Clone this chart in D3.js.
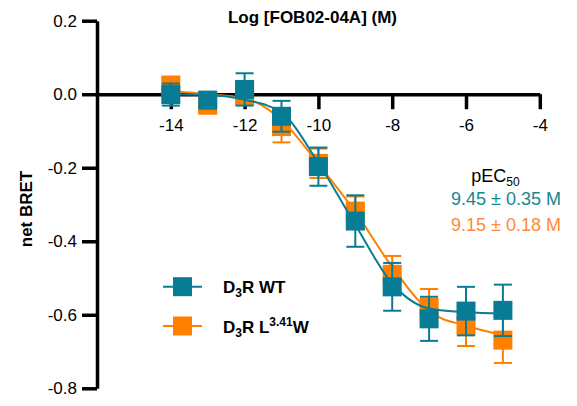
<!DOCTYPE html>
<html>
<head>
<meta charset="utf-8">
<script src="https://cdn.jsdelivr.net/npm/d3@7"></script>
<style>
  body { margin: 0; background: #fff; }
  svg { font-family: Arial, "Liberation Sans", sans-serif; }
</style>
</head>
<body>
<div class="chart"></div>
<script>
// log concentration (M)
const logConc = [-14, -13, -12, -11, -10, -9, -8, -7, -6, -5];

// D3R WT
const wtMean = [-0.001, -0.016, 0.013, -0.06, -0.197, -0.345, -0.524, -0.611, -0.59, -0.588];
const wtErr  = [0.03, 0.015, 0.044, 0.042, 0.052, 0.07, 0.065, 0.06, 0.066, 0.07];
const wtFit  = [0.0, -0.002, -0.015, -0.05, -0.187, -0.355, -0.515, -0.583, -0.593, -0.596];

// D3R L3.41W
const mutMean = [0.025, -0.03, -0.005, -0.088, -0.188, -0.318, -0.49, -0.58, -0.63, -0.669];
const mutErr  = [0.02, 0.015, 0.02, 0.043, 0.04, 0.04, 0.05, 0.05, 0.055, 0.062];
const mutFit  = [0.008, 0.0, -0.011, -0.07, -0.19, -0.32, -0.47, -0.59, -0.63, -0.655];

const xTicks = [-14, -12, -10, -8, -6, -4];
const yTicks = [0.2, 0.0, -0.2, -0.4, -0.6, -0.8];

const teal = '#087c94';
const orange = '#ff8000';

const width = 577, height = 406;

const svg = d3.select('.chart').append('svg')
    .attr('width', width)
    .attr('height', height);

const x = d3.scaleLinear().domain([-16, -4]).range([97, 539.8]);
const y = d3.scaleLinear().domain([0.2, -0.8]).range([20.7, 388.3]);

// axes
const yAxis = svg.append('g')
    .attr('transform', `translate(${x(-16)},0)`)
    .call(d3.axisLeft(y).tickValues(yTicks).tickSize(15).tickSizeOuter(0).tickPadding(5)
        .tickFormat(d => d.toFixed(1)));

const xAxis = svg.append('g')
    .attr('transform', `translate(0,${y(0)})`)
    .call(d3.axisBottom(x).tickValues(xTicks).tickSize(15).tickSizeOuter(0).tickPadding(10)
        .tickFormat(d => String(d)));

[yAxis, xAxis].forEach(g => {
    g.select('.domain').attr('stroke', '#000').attr('stroke-width', 3.5);
    g.selectAll('.tick line').attr('stroke', '#000').attr('stroke-width', 3.5);
    g.selectAll('.tick text').attr('fill', '#000').style('font-size', '17px')
        .style('font-family', 'Arial, "Liberation Sans", sans-serif');
});

// titles
svg.append('text')
    .attr('x', 312.5).attr('y', 23)
    .attr('text-anchor', 'middle')
    .style('font-size', '17px').style('font-weight', 'bold')
    .text('Log [FOB02-04A] (M)');

svg.append('text')
    .attr('transform', 'translate(32,209) rotate(-90)')
    .attr('text-anchor', 'middle')
    .style('font-size', '17px').style('font-weight', 'bold')
    .text('net BRET');

// series
const series = [
    {mean: mutMean, err: mutErr, fit: mutFit, color: orange},
    {mean: wtMean, err: wtErr, fit: wtFit, color: teal}
];

const line = d3.line()
    .x((d, i) => x(logConc[i]))
    .y(d => y(d))
    .curve(d3.curveMonotoneX);

const sq = 19, cap = 9;

series.forEach(s => {
    const g = svg.append('g');
    const pts = logConc.map((c, i) => ({c, m: s.mean[i], e: s.err[i]}));

    g.selectAll('line.err')
        .data(pts)
        .join('line')
        .attr('x1', d => x(d.c)).attr('x2', d => x(d.c))
        .attr('y1', d => y(d.m + d.e)).attr('y2', d => y(d.m - d.e))
        .attr('stroke', s.color).attr('stroke-width', 2);

    ['+', '-'].forEach(sign => {
        g.selectAll(null)
            .data(pts)
            .join('line')
            .attr('x1', d => x(d.c) - cap).attr('x2', d => x(d.c) + cap)
            .attr('y1', d => y(sign === '+' ? d.m + d.e : d.m - d.e))
            .attr('y2', d => y(sign === '+' ? d.m + d.e : d.m - d.e))
            .attr('stroke', s.color).attr('stroke-width', 2);
    });

    g.append('path')
        .datum(s.fit)
        .attr('d', line)
        .attr('fill', 'none')
        .attr('stroke', s.color)
        .attr('stroke-width', 2);

    g.selectAll('rect')
        .data(pts)
        .join('rect')
        .attr('x', d => x(d.c) - sq / 2)
        .attr('y', d => y(d.m) - sq / 2)
        .attr('width', sq).attr('height', sq)
        .attr('fill', s.color);
});

// legend
const legend = [
    {color: teal, y: 286.7, base: 'D', sub: '3', rest: 'R WT', sup: '', tail: ''},
    {color: orange, y: 326, base: 'D', sub: '3', rest: 'R L', sup: '3.41', tail: 'W'}
];

legend.forEach(l => {
    const g = svg.append('g');
    g.append('line')
        .attr('x1', 163).attr('x2', 202)
        .attr('y1', l.y).attr('y2', l.y)
        .attr('stroke', l.color).attr('stroke-width', 2);
    g.append('rect')
        .attr('x', 182.5 - sq / 2).attr('y', l.y - sq / 2)
        .attr('width', sq).attr('height', sq)
        .attr('fill', l.color);
    const t = g.append('text')
        .attr('x', 223).attr('y', l.y + 6.5)
        .style('font-size', '17px').style('font-weight', 'bold');
    t.append('tspan').text(l.base);
    t.append('tspan').attr('dy', 4).style('font-size', '12px').text(l.sub);
    t.append('tspan').attr('dy', -4).text(l.rest);
    if (l.sup) {
        t.append('tspan').attr('dy', -7).style('font-size', '12px').text(l.sup);
        t.append('tspan').attr('dy', 7).text(l.tail);
    }
});

// pEC50 annotation
const pec = svg.append('text')
    .attr('x', 495.5).attr('y', 181.5)
    .attr('text-anchor', 'middle')
    .style('font-size', '18px');
pec.append('tspan').text('pEC');
pec.append('tspan').attr('dy', 4).style('font-size', '12px').text('50');

svg.append('text')
    .attr('x', 561).attr('y', 205)
    .attr('text-anchor', 'end')
    .attr('fill', '#17878f')
    .style('font-size', '18px')
    .text('9.45 ± 0.35 M');

svg.append('text')
    .attr('x', 561).attr('y', 230.5)
    .attr('text-anchor', 'end')
    .attr('fill', '#ff8a3a')
    .style('font-size', '18px')
    .text('9.15 ± 0.18 M');
</script>
</body>
</html>
